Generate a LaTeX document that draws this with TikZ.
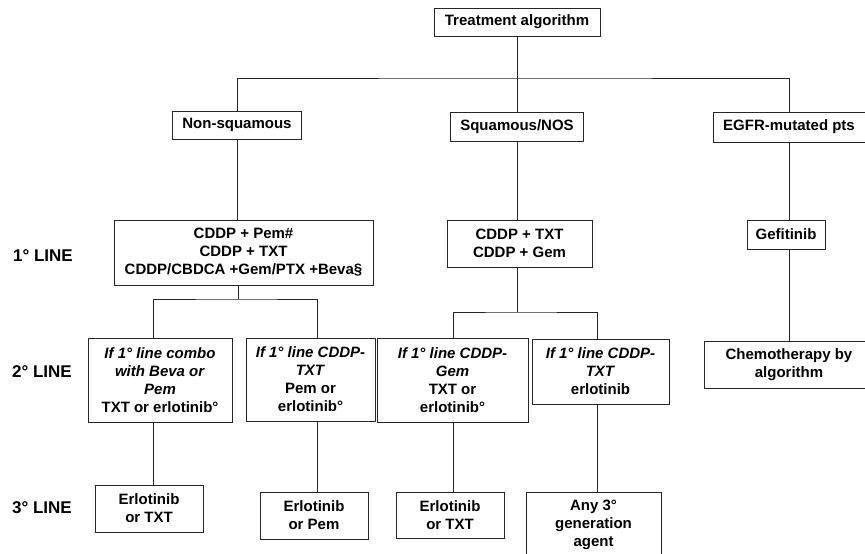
\documentclass[tikz,border=0pt]{standalone}
\usepackage{fontspec}
\setmainfont{Liberation Sans}
\usetikzlibrary{positioning}

\begin{document}
\begin{tikzpicture}[x=1pt,y=-1pt]
\tikzset{box/.style = {draw=black!85, line width=1pt, align=center, inner sep=0pt,
    font=\fontsize{15}{18}\selectfont\bfseries},
  link/.style = {draw=black!85, line width=1pt},
  lab/.style = {font=\fontsize{17}{20}\selectfont\bfseries}}
\useasboundingbox (0,0) rectangle (865,554);
\node[box, minimum width=166, minimum height=28] (top) at (517,22) {Treatment algorithm};
\node[box, minimum width=129, minimum height=28] (nonsq) at (237,125) {Non-squamous};
\node[box, minimum width=133, minimum height=29] (squam) at (517,126.5) {Squamous/NOS};
\node[box, minimum width=152, minimum height=30] (egfr) at (789,127) {EGFR-mutated pts};
\node[box, minimum width=259, minimum height=65] (l1a) at (243.5,252.5)
  {CDDP + Pem\#\\CDDP + TXT\\CDDP/CBDCA +Gem/PTX +Beva§};
\node[box, minimum width=145, minimum height=47] (l1b) at (519.5,243.5) {CDDP + TXT\\CDDP + Gem};
\node[box, minimum width=78, minimum height=29] (gef) at (786,234.5) {Gefitinib};
\node[box, minimum width=144, minimum height=84] (l2a) at (160,380)
  {\textit{If 1° line combo}\\\textit{with Beva or}\\\textit{Pem}\\TXT or erlotinib°};
\node[box, minimum width=129, minimum height=83] (l2b) at (310.5,379.5)
  {\textit{If 1° line CDDP-}\\\textit{TXT}\\Pem or\\erlotinib°};
\node[box, minimum width=151, minimum height=84] (l2c) at (452.5,380)
  {\textit{If 1° line CDDP-}\\\textit{Gem}\\TXT or\\erlotinib°};
\node[box, minimum width=137, minimum height=65] (l2d) at (600.5,371.5)
  {\textit{If 1° line CDDP-}\\\textit{TXT}\\erlotinib};
\node[box, minimum width=170, minimum height=47] (chemo) at (789,364.5) {Chemotherapy by\\algorithm};
\node[box, minimum width=108, minimum height=47] (l3a) at (149,508.5) {Erlotinib\\or TXT};
\node[box, minimum width=108, minimum height=47] (l3b) at (314,515.5) {Erlotinib\\or Pem};
\node[box, minimum width=108, minimum height=46] (l3c) at (450,515) {Erlotinib\\or TXT};
\node[box, minimum width=135, minimum height=65] (l3d) at (593.5,524.5) {Any 3°\\generation\\agent};
\node[lab] (line1) at (43,256) {1° LINE};
\node[lab] (line2) at (42,372) {2° LINE};
\node[lab] (line3) at (42,508) {3° LINE};
\coordinate (bus) at (517,78);
\coordinate (fa) at (238,299);
\coordinate (fb) at (517,312);
\coordinate (xa) at (153,0);
\coordinate (xb) at (317,0);
\coordinate (xc) at (453,0);
\coordinate (xd) at (597,0);
\coordinate (xe) at (789,0);
\draw[link] (top.south) -- (top.south |- squam.north);
\draw[link] (nonsq.north) |- (bus) -| (egfr.north);
\draw[link] (nonsq.south) -- (nonsq.south |- l1a.north);
\draw[link] (squam.south -| fb) -- (l1b.north -| fb);
\draw[link] (egfr.south -| xe) -- (gef.north -| xe);
\draw[link] (gef.south -| xe) -- (chemo.north -| xe);
\draw[link] (l1a.south -| fa) -- (fa);
\draw[link] (xa |- l2a.north) |- (fa) -| (xb |- l2b.north);
\draw[link] (l1b.south -| fb) -- (fb);
\draw[link] (xc |- l2c.north) |- (fb) -| (xd |- l2d.north);
\draw[link] (xa |- l2a.south) -- (xa |- l3a.north);
\draw[link] (xb |- l2b.south) -- (xb |- l3b.north);
\draw[link] (xc |- l2c.south) -- (xc |- l3c.north);
\draw[link] (xd |- l2d.south) -- (xd |- l3d.north);
\end{tikzpicture}
\end{document}
